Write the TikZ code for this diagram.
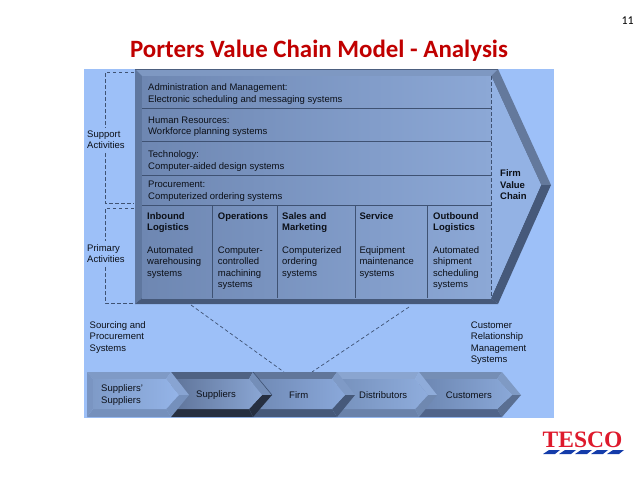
\documentclass[tikz,border=0pt]{standalone}
\usepackage{fontspec}
\setmainfont{Liberation Sans}
\newfontfamily\titlefont{Carlito}
\newfontfamily\logofont{Liberation Serif}
\definecolor{panel}{HTML}{9DC0F8}
\definecolor{panelb}{HTML}{93B2E4}
\definecolor{bodyl}{HTML}{6E87B2}
\definecolor{bodyr}{HTML}{8CA8D6}
\definecolor{edgetop}{HTML}{7E98C2}
\definecolor{edgeleft}{HTML}{5F779F}
\definecolor{edgelow}{HTML}{46597A}
\definecolor{edgeup}{HTML}{64799C}
\definecolor{rulec}{HTML}{3F5273}
\definecolor{txt}{HTML}{0C1018}
\definecolor{titlered}{HTML}{C00000}
\definecolor{logored}{HTML}{DE1A2C}
\definecolor{logoblue}{HTML}{143CAA}
\definecolor{firsttop}{HTML}{7F9AC6}
\definecolor{firstup}{HTML}{88A4D2}
\definecolor{firstlow}{HTML}{7590BC}
\definecolor{firstleft}{HTML}{7A95C2}
\definecolor{firstfl}{HTML}{7F9BC8}
\definecolor{firstfr}{HTML}{94B4E8}
\tikzset{
  x=1pt,y=-1pt,
  lbl/.style={anchor=north west,inner sep=0pt,align=left,text=txt,font=\fontsize{9.5}{11.4}\selectfont},
  blbl/.style={lbl,font=\fontsize{9.5}{11.4}\selectfont\bfseries},
  sepln/.style={draw=rulec,line width=0.7pt},
  dashln/.style={draw=rulec,line width=0.7pt,dash pattern=on 3.5pt off 2.5pt},
  ctr/.style={anchor=west,inner sep=0pt,align=left,text=txt,font=\fontsize{9.5}{11.4}\selectfont},
}
\begin{document}
\begin{tikzpicture}
\useasboundingbox (0,0) rectangle (638,479);
\fill[white] (0,0) rectangle (638,479);
\node[anchor=east,inner sep=0pt,font=\fontsize{12}{14}\titlefont,text=black] (pageno) at (634,21) {11};
\node[anchor=center,inner sep=0pt,font=\fontsize{24.9}{28}\titlefont\bfseries,text=titlered] (title) at (319,50.5) {Porters Value Chain Model - Analysis};
% panel
\fill[panel] (84,69) rectangle (554,418);
% main chevron
\fill[edgetop] (135,69) -- (498,69) -- (491,76) -- (142,76) -- cycle;
\fill[edgeleft] (135,69) -- (142,76) -- (142,298) -- (135,304) -- cycle;
\fill[edgelow] (135,304) -- (142,298) -- (491,298) -- (498,304) -- cycle;
\fill[edgeup] (498,69) -- (551,185) -- (541,185) -- (491,76) -- cycle;
\fill[edgelow] (498,304) -- (551,185) -- (541,185) -- (491,298) -- cycle;
\fill[panelb] (491,76) -- (541,185) -- (491,298) -- cycle;
\shade[left color=bodyl,right color=bodyr] (142,76) rectangle (491,298);
\draw[edgeleft!80!black,line width=0.5pt] (135,69) -- (498,69);
% row and column rules
\coordinate (r1l) at (142,108); \coordinate (r1r) at (491,108);
\coordinate (r2l) at (142,141); \coordinate (r2r) at (491,141);
\coordinate (r3l) at (142,175); \coordinate (r3r) at (491,175);
\coordinate (r4l) at (142,205); \coordinate (r4r) at (491,205);
\draw[sepln] (r1l) -- (r1r);
\draw[sepln] (r2l) -- (r2r);
\draw[sepln] (r3l) -- (r3r);
\draw[sepln] (r4l) -- (r4r);
\foreach \cx/\cn in {212/c1,277/c2,355/c3,427/c4}{
  \coordinate (\cn t) at (\cx,205); \coordinate (\cn b) at (\cx,298);
  \draw[sepln] (\cn t) -- (\cn b);
}
\coordinate (vt) at (491,76); \coordinate (vb) at (491,298);
\draw[dashln] (vt) -- (vb);
% text in rows
\node[lbl] (admin) at (148,83.8) {Administration and Management:\\Electronic scheduling and messaging systems};
\node[lbl] (hr) at (148,116.5) {Human Resources:\\Workforce planning systems};
\node[lbl] (tech) at (148,150.8) {Technology:\\Computer-aided design systems};
\node[lbl] (proc) at (148,181.2) {Procurement:\\Computerized ordering systems};
% columns
\node[blbl] (h1) at (147,212.5) {Inbound\\Logistics};
\node[blbl] (h2) at (217.7,212.5) {Operations};
\node[blbl] (h3) at (282,212.5) {Sales and\\Marketing};
\node[blbl] (h4) at (359.3,212.5) {Service};
\node[blbl] (h5) at (433,212.5) {Outbound\\Logistics};
\node[lbl] (b1) at (147,246.5) {Automated\\warehousing\\systems};
\node[lbl] (b2) at (217.7,246.5) {Computer-\\controlled\\machining\\systems};
\node[lbl] (b3) at (282,246.5) {Computerized\\ordering\\systems};
\node[lbl] (b4) at (359.3,246.5) {Equipment\\maintenance\\systems};
\node[lbl] (b5) at (433,246.5) {Automated\\shipment\\scheduling\\systems};
\node[blbl] (firm) at (500,169.8) {Firm\\Value\\Chain};
% brackets
\node[lbl] (support) at (87,130.5) {Support\\Activities};
\node[lbl] (primary) at (87,244.5) {Primary\\Activities};
\coordinate (s1) at (134,72); \coordinate (s2) at (105,72); \coordinate (s3) at (105,128);
\coordinate (s4) at (105,153); \coordinate (s5) at (105,203); \coordinate (s6) at (134,203);
\coordinate (p1) at (134,208); \coordinate (p2) at (105,208); \coordinate (p3) at (105,241);
\coordinate (p4) at (105,267); \coordinate (p5) at (105,303); \coordinate (p6) at (135,303);
\draw[dashln] (s1) -- (s2) -- (s3);
\draw[dashln] (s4) -- (s5) -- (s6);
\draw[dashln] (p1) -- (p2) -- (p3);
\draw[dashln] (p4) -- (p5) -- (p6);
% funnel lines
\coordinate (f1) at (191,305); \coordinate (f2) at (284,372);
\coordinate (f3) at (409,307); \coordinate (f4) at (312,372);
\draw[dashln] (f1) -- (f2);
\draw[dashln] (f3) -- (f4);
\node[lbl] (sourcing) at (89.5,321.5) {Sourcing and\\Procurement\\Systems};
\node[lbl] (crm) at (470.7,321.5) {Customer\\Relationship\\Management\\Systems};
% lower chain, drawn right to left so each tip lies over the next piece
\foreach \xl/\xr/\xt/\xri/\xit/\ctop/\cupr/\clow/\cbot/\cfl/\cfr in {
 419/502/521/497/512/758EB5/7F9AC4/5A6F92/50648A/6C86B1/8AA8D8,
 337/419/437/415/428/8AA5D0/8FACDA/6F88B0/6A82AA/7691BC/8FADDD,
 253/337/355/332/345/61769A/7F9AC6/46597A/46597A/6F89B4/8AA8DA,
 171/253/272/249/262/4F6283/748EB8/262F40/262F40/5E7398/8AA6D4}{
  \definecolor{ca}{HTML}{\ctop}\definecolor{cb}{HTML}{\cupr}\definecolor{cc}{HTML}{\clow}
  \definecolor{cd}{HTML}{\cbot}\definecolor{ce}{HTML}{\cfl}\definecolor{cf}{HTML}{\cfr}
  \fill[ca] (\xl,372) -- (\xr,372) -- (\xri,379) -- (\xl,379) -- cycle;
  \fill[cb] (\xr,372) -- (\xt,395) -- (\xit,395) -- (\xri,379) -- cycle;
  \fill[cc] (\xr,417) -- (\xt,395) -- (\xit,395) -- (\xri,409) -- cycle;
  \fill[cd] (\xl,417) -- (\xr,417) -- (\xri,409) -- (\xl,409) -- cycle;
  \shade[left color=ce,right color=cf] (\xl,379) -- (\xri,379) -- (\xit,395) -- (\xri,409) -- (\xl,409) -- cycle;
}
\coordinate (ed1) at (253,372); \coordinate (ed2) at (272,395);
\draw[rulec,line width=0.6pt] (ed1) -- (ed2);
% first chevron
\fill[firsttop] (87,372) -- (171,372) -- (166,379) -- (93,379) -- cycle;
\fill[firstup] (171,372) -- (189,395) -- (179,395) -- (166,379) -- cycle;
\fill[firstlow] (171,417) -- (189,395) -- (179,395) -- (166,409) -- cycle;
\fill[firstlow] (87,417) -- (171,417) -- (166,409) -- (93,409) -- cycle;
\fill[firstleft] (87,372) -- (93,379) -- (93,409) -- (87,417) -- cycle;
\shade[left color=firstfl,right color=firstfr] (93,379) -- (166,379) -- (179,395) -- (166,409) -- (93,409) -- cycle;
\node[ctr] (ss) at (101,395) {Suppliers'\\Suppliers};
\node[ctr] (sup) at (196,395) {Suppliers};
\node[ctr] (frm) at (289,395) {Firm};
\node[ctr] (dist) at (359,395) {Distributors};
\node[ctr] (cust) at (445.7,395) {Customers};
% logo
\node[anchor=center,inner sep=0pt,font=\fontsize{23.5}{25}\logofont\bfseries,text=logored] (tesco) at (582.5,439.5) {TESCO};
\foreach \i in {0,...,4}{
  \fill[logoblue] (549+\i*16,450) -- (560+\i*16,450) -- (555+\i*16,454) -- (543+\i*16,454) -- cycle;
}
\end{tikzpicture}
\end{document}
